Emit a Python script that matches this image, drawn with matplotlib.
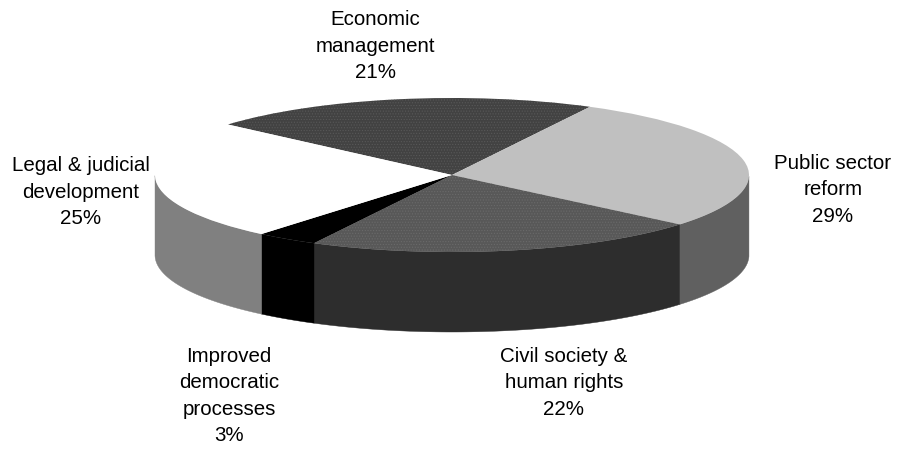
import matplotlib
matplotlib.use("Agg")
import matplotlib.pyplot as plt
import numpy as np

plt.rcParams["font.family"] = ["Liberation Sans", "DejaVu Sans"]
plt.rcParams["hatch.linewidth"] = 0.5

categorias = ["Economic\nmanagement", "Public sector\nreform", "Civil society &\nhuman rights",
              "Improved\ndemocratic\nprocesses", "Legal & judicial\ndevelopment"]
# tamanho das fatias; o rotulo impresso vem arredondado na origem
valores = [21.3, 28.4, 21.6, 3.4, 25.3]
percentuais = ["21%", "29%", "22%", "3%", "25%"]

cores_topo = ["#424242", "#c0c0c0", "#585858", "#000000", "#ffffff"]
cores_lado = ["#303030", "#606060", "#2d2d2d", "#000000", "#808080"]
hachuras = ["......", None, "......", None, None]

# centro dos rotulos em pixels da imagem
pos_rotulos = [(375, 46), (833, 190), (564, 383), (229, 396), (81, 192)]

LARGURA, ALTURA = 899, 452
CX, CY = 452, 176
RX, RY = 297, 77
PROFUNDIDADE = 80 / RY
INICIO = 139

fig = plt.figure(figsize=(LARGURA / 100, ALTURA / 100), dpi=100)
ax = fig.add_axes([0, 0, 1, 1])

fatias, _ = ax.pie(valores, colors=cores_topo, startangle=INICIO, counterclock=False,
                   wedgeprops={"linewidth": 0})
ax.set_aspect("auto")
ax.set_xlim(-CX / RX, (LARGURA - CX) / RX)
ax.set_ylim(-(ALTURA - CY) / RY, CY / RY)

for fatia, hachura, cor in zip(fatias, hachuras, cores_topo):
    fatia.set_zorder(3)
    if hachura:
        fatia.set_hatch(hachura)
        fatia.set_edgecolor("#6a6a6a" if cor == "#585858" else "#585858")

# parede lateral: so a parte de baixo da elipse aparece
angulo = INICIO
for valor, cor in zip(valores, cores_lado):
    fim = angulo - valor * 3.6
    t = np.radians(np.linspace(fim, angulo, 80))
    visivel = np.sin(t) <= 0
    if visivel.any():
        x = np.cos(t[visivel])
        y = np.sin(t[visivel])
        ax.fill(np.concatenate([x, x[::-1]]),
                np.concatenate([y, y[::-1] - PROFUNDIDADE]),
                color=cor, linewidth=0.3, zorder=2)
    angulo = fim

for (px, py), nome, pct in zip(pos_rotulos, categorias, percentuais):
    fig.text(px / LARGURA, 1 - py / ALTURA, f"{nome}\n{pct}", ha="center", va="center",
             fontsize=14.8, color="black", linespacing=1.5)

fig.savefig("out.png", dpi=100)
